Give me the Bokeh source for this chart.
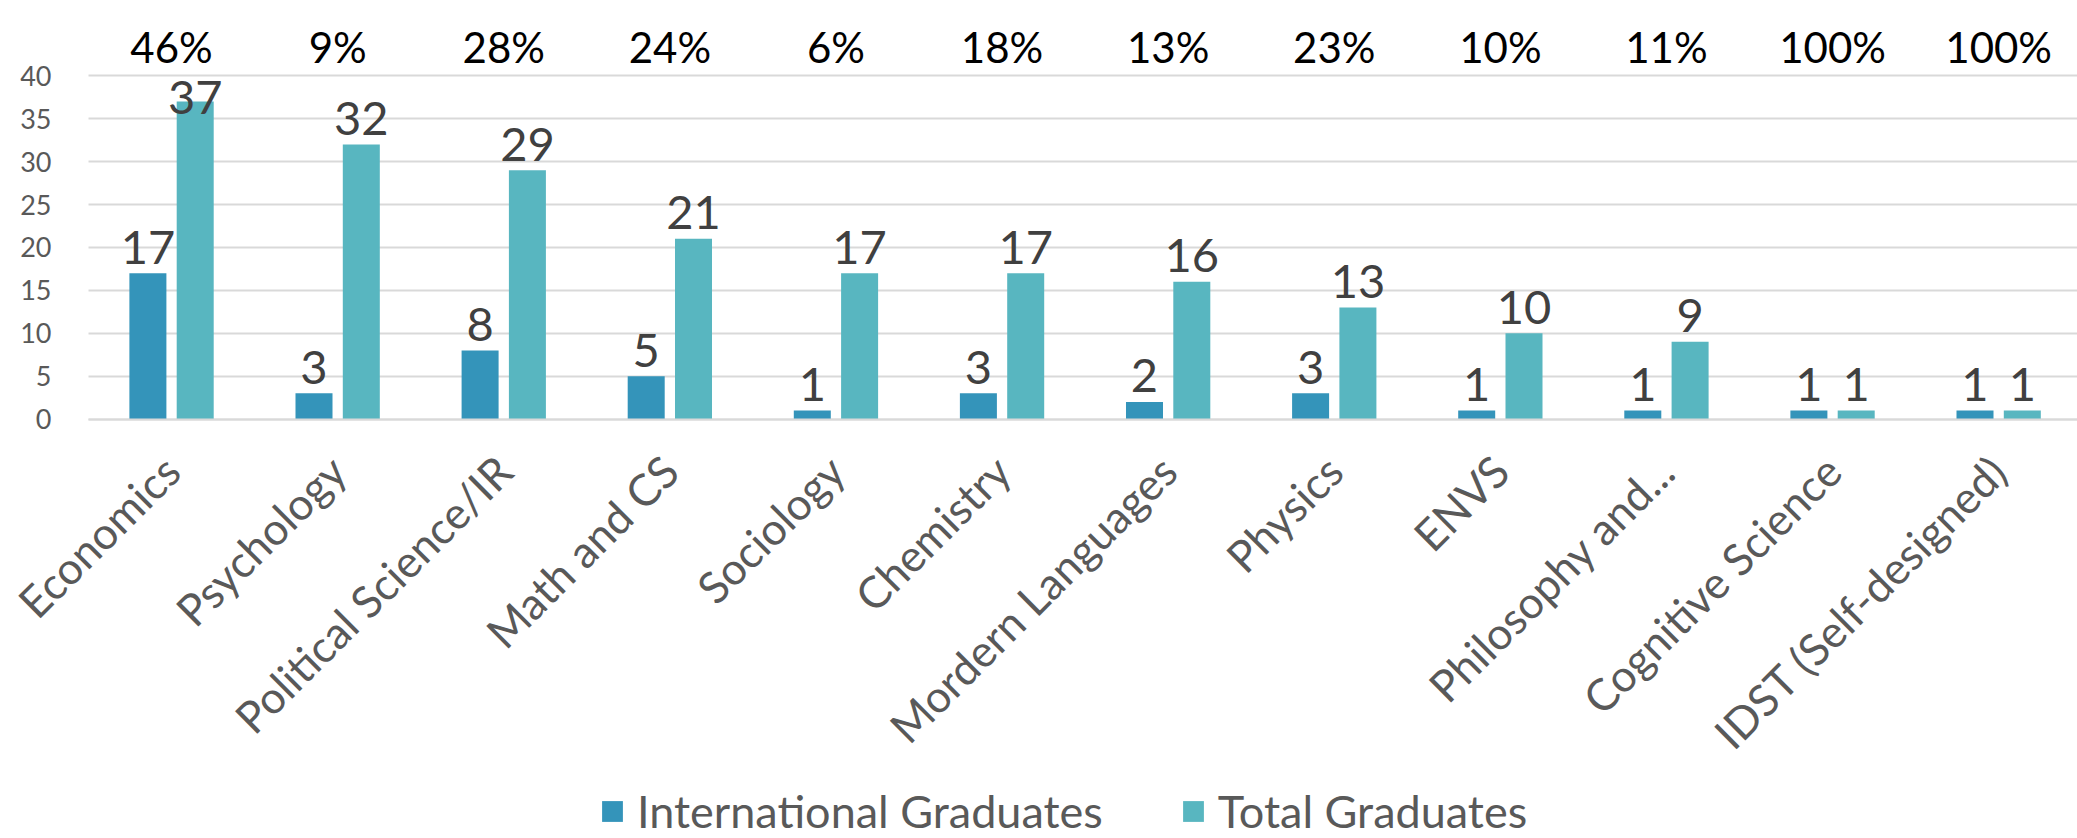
import numpy as np
from bokeh.plotting import figure
from bokeh.models import Range1d, FixedTicker, Legend, LegendItem, ColumnDataSource
from bokeh.core.properties import value
from bokeh.embed import file_html
from bokeh.resources import INLINE

# ---- data ----
majors = ["Economics", "Psychology", "Political Science/IR", "Math and CS", "Sociology",
          "Chemistry", "Mordern Languages", "Physics", "ENVS", "Philosophy and...",
          "Cognitive Science", "IDST (Self-designed)"]
international = [17, 3, 8, 5, 1, 3, 2, 3, 1, 1, 1, 1]
total = [37, 32, 29, 21, 17, 17, 16, 13, 10, 9, 1, 1]
share_labels = ["46%", "9%", "28%", "24%", "6%", "18%", "13%", "23%", "10%", "11%", "100%", "100%"]
y_ticks = [0, 5, 10, 15, 20, 25, 30, 35, 40]

FONT = "Lato"
C_INTL = "#3494BA"
C_TOT = "#58B6C0"
GRID = "#D9D9D9"
AXIS_TXT = "#595959"
LBL_TXT = "#404040"

W, H = 2077, 838
LEFT = 88             # pixel column where the plot area starts
PX_UNIT = 8.5825      # pixels per graduate
ZERO_PX = 418.6       # pixel row of the zero line
CAT_PX = 166.1        # pixels per category

n = len(majors)
xc = np.arange(n)
off = 0.1424
bw = 0.2228
x_lo = -0.5
x_hi = -0.5 + (W - LEFT) / CAT_PX

p = figure(frame_width=W, frame_height=H,
           x_range=Range1d(x_lo - LEFT / CAT_PX, x_hi),
           y_range=Range1d(-(H - ZERO_PX) / PX_UNIT, ZERO_PX / PX_UNIT),
           output_backend="svg", toolbar_location=None,
           min_border_left=0, min_border_right=0, min_border_top=0, min_border_bottom=0,
           outline_line_color=None, background_fill_color="white")

src = ColumnDataSource(dict(
    x_i=xc - off, x_t=xc + off, intl=international, tot=total,
    yl_i=[min(v + 3.03, 37.47) for v in international],
    yl_t=[min(v + 3.03, 37.47) for v in total],
    li=[str(v) for v in international], lt=[str(v) for v in total],
    xs=xc, share=share_labels, ys=[43.3] * n,
))

r1 = p.vbar(x="x_i", top="intl", width=bw, source=src, fill_color=C_INTL, line_color=None)
r2 = p.vbar(x="x_t", top="tot", width=bw, source=src, fill_color=C_TOT, line_color=None)

common = dict(text_font=value(FONT), text_align="center", text_baseline="alphabetic", source=src)
p.text(x="x_i", y="yl_i", text="li", text_font_size="47px", text_color=LBL_TXT, **common)
p.text(x="x_t", y="yl_t", text="lt", text_font_size="47px", text_color=LBL_TXT, **common)
p.text(x="xs", y="ys", text="share", text_font_size="42px", text_color="#000000", **common)

# grid (only across the plot area)
p.xgrid.visible = False
p.ygrid.ticker = FixedTicker(ticks=y_ticks)
p.ygrid.cross_bounds = (x_lo, x_hi)
p.ygrid.grid_line_color = GRID
p.ygrid.grid_line_width = 2

# y axis at the left edge of the plot area
p.yaxis.fixed_location = x_lo
p.yaxis.ticker = FixedTicker(ticks=y_ticks)
p.yaxis.axis_line_color = None
p.yaxis.major_tick_line_color = None
p.yaxis.minor_tick_line_color = None
p.yaxis.major_label_standoff = 31
p.yaxis.major_label_text_font = FONT
p.yaxis.major_label_text_font_size = "27px"
p.yaxis.major_label_text_color = AXIS_TXT

# x axis drawn on the zero line
p.xaxis.fixed_location = 0
p.xaxis.bounds = (x_lo, x_hi)
p.xaxis.ticker = FixedTicker(ticks=list(range(n)))
p.xaxis.major_label_overrides = {i: m for i, m in enumerate(majors)}
p.xaxis.major_label_orientation = np.pi / 4
p.xaxis.axis_line_color = GRID
p.xaxis.axis_line_width = 2
p.xaxis.major_tick_line_color = None
p.xaxis.minor_tick_line_color = None
p.xaxis.major_label_standoff = 38
p.xaxis.major_label_text_font = FONT
p.xaxis.major_label_text_font_size = "44px"
p.xaxis.major_label_text_color = AXIS_TXT

legend = Legend(items=[LegendItem(label="International Graduates", renderers=[r1]),
                       LegendItem(label="Total Graduates", renderers=[r2])],
                orientation="horizontal", location=(599, 0),
                glyph_width=26, glyph_height=26, label_standoff=12, spacing=77,
                padding=0, margin=0, border_line_color=None, background_fill_alpha=0,
                label_text_font=FONT, label_text_font_size="45px", label_text_color=AXIS_TXT)
p.add_layout(legend, "center")

open("out.html", "w").write(file_html(p, INLINE))
